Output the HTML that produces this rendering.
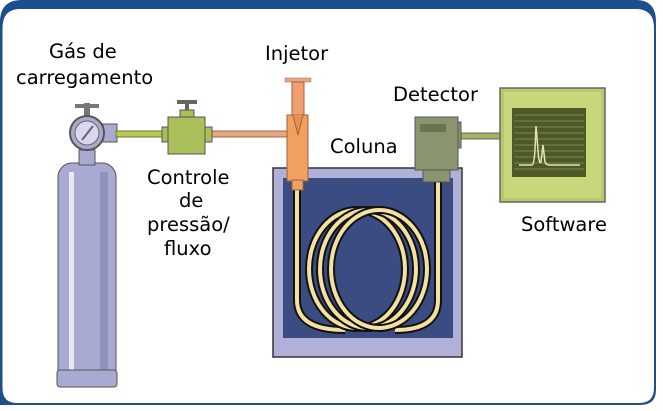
<!DOCTYPE html>
<html><head><meta charset="utf-8"><style>
html,body{margin:0;padding:0;background:#fff;}
body{width:663px;height:411px;overflow:hidden;position:relative;font-family:"Liberation Sans","DejaVu Sans",sans-serif;}
.t{position:absolute;font-size:19.5px;color:#000;font-family:"DejaVu Sans","Liberation Sans",sans-serif;white-space:nowrap;}
</style></head><body>
<svg width="663" height="411" style="position:absolute;left:0;top:0">
  <path d="M0,405 L0,22 Q0,0 22,0 L636,0 Q656,0 656,22 L656,390 Q656,405 640,405 Z" fill="#1f4e8c"/>
  <path d="M2.5,388 L2.5,28 Q2.5,9 20,9 L636,9 Q654,9 654,28 L654,388 Q654,403 639,403 L17,403 Q2.5,403 2.5,388 Z" fill="#fff"/>
  <!-- cylinder -->
  <rect x="58" y="163" width="58" height="222" rx="14" fill="#a9aad2" stroke="#555" stroke-width="1"/>
  <rect x="58" y="175" width="58" height="210" fill="#a9aad2"/>
  <line x1="58" y1="175" x2="58" y2="385" stroke="#555"/>
  <line x1="116" y1="175" x2="116" y2="385" stroke="#555"/>
  <rect x="69" y="172" width="5" height="210" fill="#e8e8f6"/>
  <rect x="100" y="172" width="8" height="210" fill="#9192c0"/>
  <rect x="57" y="370" width="60" height="17" rx="3" fill="#a9aad2" stroke="#555"/>
  <rect x="79" y="150" width="16" height="15" fill="#a9aad2" stroke="#555"/>
  <rect x="84" y="103" width="6" height="14" fill="#777"/>
  <rect x="75" y="104" width="24" height="4" fill="#777"/>
  <rect x="103" y="124" width="14" height="18" fill="#a9aad2" stroke="#555"/>
  <circle cx="87" cy="133" r="17" fill="#a9aad2" stroke="#555" stroke-width="2"/>
  <circle cx="87" cy="133" r="12" fill="#d8d8ee" stroke="#666"/>
  <line x1="82" y1="140" x2="93" y2="126" stroke="#666" stroke-width="2"/>
  <!-- pipes -->
  <rect x="116" y="131" width="54" height="6" fill="#b8c654" stroke="#6e7a30" stroke-width="1"/>
  <rect x="207" y="131" width="82" height="6" fill="#e8a780" stroke="#9a6a50" stroke-width="1"/>
  <rect x="458" y="133" width="44" height="6" fill="#a8b060" stroke="#666" stroke-width="1"/>
  <!-- regulator -->
  <rect x="185" y="100" width="4" height="16" fill="#666"/>
  <rect x="177" y="100" width="20" height="4" fill="#666"/>
  <rect x="180" y="110" width="14" height="8" fill="#a9c05a" stroke="#555"/>
  <rect x="162" y="127" width="10" height="15" fill="#a9c05a" stroke="#555"/>
  <rect x="202" y="127" width="10" height="15" fill="#a9c05a" stroke="#555"/>
  <rect x="168" y="117" width="37" height="37" fill="#a9c05a" stroke="#555"/>
  <!-- oven -->
  <rect x="273" y="168" width="189" height="189" fill="#b0b0d8" stroke="#333" stroke-width="1.5"/>
  <rect x="283" y="178" width="170" height="160" fill="#3a4c82"/>
  <g fill="none">
    <path d="M297,190 L297,300 Q297,330 345,330" stroke="#111" stroke-width="8"/>
    <path d="M297,190 L297,300 Q297,330 345,330" stroke="#f4e0a0" stroke-width="4"/>
    <path d="M438,180 L438,300 Q438,330 395,330" stroke="#111" stroke-width="8"/>
    <path d="M438,180 L438,300 Q438,330 395,330" stroke="#f4e0a0" stroke-width="4"/>
    <ellipse cx="357" cy="269" rx="48" ry="59" stroke="#111" stroke-width="8"/>
    <ellipse cx="357" cy="269" rx="48" ry="59" stroke="#f4e0a0" stroke-width="4"/>
    <ellipse cx="368" cy="269" rx="48" ry="59" stroke="#111" stroke-width="8"/>
    <ellipse cx="368" cy="269" rx="48" ry="59" stroke="#f4e0a0" stroke-width="4"/>
    <ellipse cx="379" cy="269" rx="48" ry="59" stroke="#111" stroke-width="8"/>
    <ellipse cx="379" cy="269" rx="48" ry="59" stroke="#f4e0a0" stroke-width="4"/>
  </g>
  <!-- injector -->
  <rect x="285" y="78" width="26" height="4" fill="#e8a780" stroke="#a06040" stroke-width="0.5"/>
  <rect x="292" y="82" width="12" height="36" fill="#f0a070" stroke="#a06040"/>
  <rect x="287" y="115" width="21" height="66" fill="#f0a060" stroke="#a06040"/>
  <path d="M293,115 L298,135 L303,115" fill="#e89050" stroke="#a06040"/>
  <rect x="292" y="180" width="11" height="10" fill="#f0a060" stroke="#a06040"/>
  <!-- detector -->
  <rect x="455" y="122" width="6" height="26" fill="#8a9570" stroke="#555"/>
  <rect x="415" y="117" width="43" height="53" fill="#8a9570" stroke="#555"/>
  <rect x="420" y="124" width="26" height="8" fill="#6a7550"/>
  <rect x="423" y="170" width="27" height="12" fill="#8a9570" stroke="#555"/>
  <!-- monitor -->
  <rect x="500" y="88" width="105" height="114" fill="#b8c86a" stroke="#666" stroke-width="1.5"/>
  <rect x="504" y="92" width="97" height="106" fill="#c8d67c"/>
  <rect x="512" y="108" width="74" height="69" fill="#4d5a26"/>
  <g stroke="#7a8650" stroke-width="1">
    <line x1="514" y1="115" x2="584" y2="115"/><line x1="514" y1="121" x2="584" y2="121"/>
    <line x1="514" y1="127" x2="584" y2="127"/><line x1="514" y1="133" x2="584" y2="133"/>
    <line x1="514" y1="139" x2="584" y2="139"/><line x1="514" y1="145" x2="584" y2="145"/>
    <line x1="514" y1="151" x2="584" y2="151"/><line x1="514" y1="157" x2="584" y2="157"/>
    <line x1="514" y1="163" x2="584" y2="163"/><line x1="514" y1="169" x2="584" y2="169"/>
  </g>
  <path d="M519,165 L532,165 Q534,165 535,150 L536,126 L538,150 Q539,165 541,162 L543,145 L545,162 Q546,165 550,165 L580,165" fill="none" stroke="#dfe6b8" stroke-width="1.5"/>
</svg>
<div class="t" style="left:49px;top:40px">Gás de</div>
<div class="t" style="left:16px;top:66px">carregamento</div>
<div class="t" style="left:265px;top:42px">Injetor</div>
<div class="t" style="left:393px;top:83px">Detector</div>
<div class="t" style="left:330px;top:135px">Coluna</div>
<div class="t" style="left:147px;top:166px">Controle</div>
<div class="t" style="left:179px;top:189px">de</div>
<div class="t" style="left:147px;top:213px">pressão/</div>
<div class="t" style="left:164px;top:237px">fluxo</div>
<div class="t" style="left:521px;top:213px">Software</div>
</body></html>
